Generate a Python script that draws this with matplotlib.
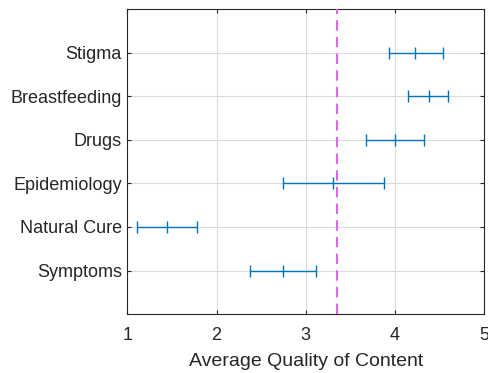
import numpy as np
import matplotlib
matplotlib.use("Agg")
import matplotlib.pyplot as plt

# ================================ Data ================================ #

topics = ["Symptoms", "Natural Cure", "Epidemiology", "Drugs", "Breastfeeding", "Stigma"]
mean_quality = [2.75, 1.44, 3.31, 4.00, 4.38, 4.23]
lower_bound = [2.37, 1.11, 2.75, 3.68, 4.15, 3.93]
upper_bound = [3.12, 1.78, 3.88, 4.33, 4.59, 4.54]
overall_mean = 3.35

# ================================ Plot ================================ #

plt.rcParams['font.family'] = ['Liberation Sans', 'DejaVu Sans']

fig = plt.figure(figsize=(4.88, 3.73), dpi=100)
ax = fig.add_axes([0.261, 0.158, 0.731, 0.817])

y = np.arange(1, len(topics) + 1)
means = np.array(mean_quality)
xerr = [means - np.array(lower_bound), np.array(upper_bound) - means]

ax.axvline(overall_mean, color="#e066ee", linestyle=(0, (5, 3)), linewidth=1.5, zorder=3)
ax.errorbar(means, y, xerr=xerr, fmt='|', color="#0072BD", ecolor="#0072BD",
            markersize=8, elinewidth=1.0, capsize=4, capthick=1.0, zorder=4)

ax.set_xlim(1, 5)
ax.set_ylim(0, 7)
ax.set_xticks([1, 2, 3, 4, 5])
ax.set_yticks(y)
ax.set_yticklabels(topics)
ax.grid(True, color="#dcdcdc", linewidth=0.8)
ax.set_axisbelow(True)
ax.tick_params(direction='in', length=3, labelsize=13, colors="#262626",
               top=True, right=True)
ax.tick_params(axis='x', pad=9)
ax.tick_params(axis='y', pad=4)
for s in ax.spines.values():
    s.set_color("#262626")
    s.set_linewidth(0.8)
ax.set_xlabel("Average Quality of Content", fontsize=14, color="#262626", labelpad=7)

fig.savefig("out.png", dpi=100)
